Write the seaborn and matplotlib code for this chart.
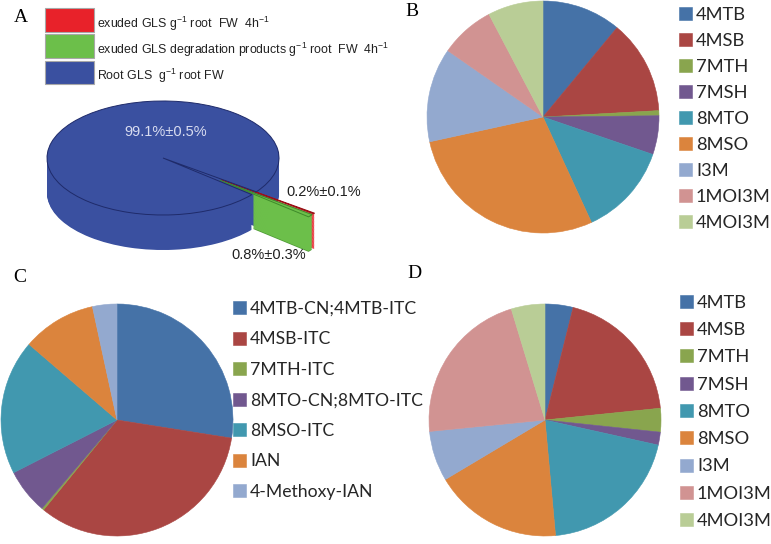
import matplotlib
matplotlib.use('Agg')
import matplotlib.pyplot as plt
import matplotlib.patches as mpatches
import seaborn as sns
import numpy as np

# Panel A: share of root GLS vs exuded GLS / degradation products
a_labels = ['exuded GLS g$^{-1}$ root  FW  4h$^{-1}$',
            'exuded GLS degradation products g$^{-1}$ root  FW  4h$^{-1}$',
            'Root GLS  g$^{-1}$ root FW']
a_pct = [0.2, 0.8, 99.1]
a_err = [0.1, 0.3, 0.5]
a_colors = ['#E8222A', '#6CBF4A', '#3A50A0']

# Panels B and D: glucosinolate composition
gls_names = ['4MTB', '4MSB', '7MTH', '7MSH', '8MTO', '8MSO', 'I3M', '1MOI3M', '4MOI3M']
b_values = [11.0, 13.1, 0.7, 5.4, 12.9, 28.4, 13.1, 7.6, 7.7]
d_values = [3.9, 19.5, 3.3, 1.8, 20.1, 17.9, 7.0, 21.9, 4.7]

# Panel C: degradation products
c_names = ['4MTB-CN;4MTB-ITC', '4MSB-ITC', '7MTH-ITC', '8MTO-CN;8MTO-ITC',
           '8MSO-ITC', 'IAN', '4-Methoxy-IAN']
c_values = [27.5, 33.4, 0.3, 6.3, 18.8, 10.3, 3.4]

sns.set_theme(style='white')
plt.rcParams['mathtext.fontset'] = 'custom'
plt.rcParams['mathtext.rm'] = 'Liberation Sans'
plt.rcParams['mathtext.it'] = 'Liberation Sans:italic'

excel = sns.color_palette(['#4572A7', '#AA4643', '#89A54E', '#71588F', '#4198AF',
                           '#DB843D', '#93A9CF', '#D19392', '#B9CD96'])

W, H = 771, 544
fig = plt.figure(figsize=(W / 100, H / 100), dpi=100)
fig.patch.set_facecolor('white')


def px_axes(x0, y0, w, h):
    return fig.add_axes([x0 / W, 1 - (y0 + h) / H, w / W, h / H])


def flat_pie(cx, cy, r, values, names, leg_x, leg_y, spacing, fsize):
    ax = px_axes(cx - r, cy - r, 2 * r, 2 * r)
    wedges, _ = ax.pie(values, colors=excel[:len(values)], startangle=90, counterclock=False,
                       wedgeprops=dict(linewidth=0.4))
    for wd in wedges:
        wd.set_edgecolor(wd.get_facecolor())
    ax.set_xlim(-1, 1)
    ax.set_ylim(-1, 1)
    ax.set_aspect('equal')
    ax.axis('off')
    fpx = fsize * 100 / 72
    fig.legend(wedges, names, loc='upper left', bbox_to_anchor=(leg_x / W, 1 - leg_y / H),
               frameon=False, borderpad=0, borderaxespad=0, handlelength=13 / fpx,
               handleheight=13 / fpx, handletextpad=4 / fpx, labelspacing=spacing,
               prop=dict(family='Lato', size=fsize))
    return ax


# ---- Panel A (pseudo 3D pie) ----
cx, cy, rx, ry = 163, 158, 116, 57
x0, y0, w, h = 40, 95, 300, 175
axA = px_axes(x0, y0, w, h)
depth = 35 / ry
levels = np.linspace(-depth, 0, 45)[:-1]
off = 0.625
explode = [off, off, 0]
start = 323.6

# sides of the main cylinder
for t in levels:
    axA.pie(a_pct, colors=['none', 'none', a_colors[2]], center=(0, t), explode=explode,
            startangle=start, counterclock=False, wedgeprops=dict(linewidth=0))
# sides of the exploded slices (only the part sticking out of the cylinder)
for t in levels:
    sl, _ = axA.pie(a_pct, colors=[a_colors[0], a_colors[1], 'none'], center=(0, t),
                    explode=explode, startangle=start, counterclock=False,
                    wedgeprops=dict(linewidth=0, width=off))
    if t == levels[0]:
        sl[1].set_facecolor('#4E9A35')
# top face
top, _ = axA.pie(a_pct, colors=a_colors, center=(0, 0), explode=explode,
                 startangle=start, counterclock=False,
                 wedgeprops=dict(linewidth=0.7, edgecolor='#1F2B6A'))
top[0].set_edgecolor('#9A1218')
top[1].set_edgecolor('#3E8A2A')
axA.set_aspect('auto')
axA.set_xlim((x0 - cx) / rx, (x0 + w - cx) / rx)
axA.set_ylim(-(y0 + h - cy) / ry, (cy - y0) / ry)
axA.axis('off')

# legend of panel A (big colour boxes)
for i, (lab, col) in enumerate(zip(a_labels, a_colors)):
    top_y = 8.3 + 26.2 * i
    fig.add_artist(mpatches.Rectangle((45 / W, 1 - (top_y + 23.5) / H), 49 / W, 23.5 / H,
                                      transform=fig.transFigure, facecolor=col,
                                      edgecolor='#A8A8A8', linewidth=0.8))
    fig.text(97 / W, 1 - (top_y + 15.5) / H, lab, ha='left', va='center',
             family='Liberation Sans', size=8.9, color='#222222')

pct_txt = [f'{p}%±{e}%' for p, e in zip(a_pct, a_err)]
fig.text(166 / W, 1 - 132 / H, pct_txt[2], ha='center', va='center', color='#D8DCF0',
         family='Liberation Sans', size=10.5)
fig.text(324 / W, 1 - 192 / H, pct_txt[0], ha='center', va='center', color='#202020',
         family='Liberation Sans', size=10.5)
fig.text(269 / W, 1 - 255 / H, pct_txt[1], ha='center', va='center', color='#202020',
         family='Liberation Sans', size=10.5)

# ---- Panels B, C, D ----
flat_pie(543, 117, 116, b_values, gls_names, 679, 6.5, 0.55, 13.2)
flat_pie(117, 420, 116, c_values, c_names, 233, 301.0, 0.82, 12.7)
flat_pie(545, 420, 116, d_values, gls_names, 680, 294.8, 0.615, 13.2)

for letter, (lx, ly) in zip('ABCD', [(21, 18), (412, 12), (20, 277), (414, 273)]):
    fig.text(lx / W, 1 - ly / H, letter, ha='center', va='center',
             family='Liberation Serif', size=14, color='black')

fig.savefig('out.png', dpi=100, facecolor='white')
